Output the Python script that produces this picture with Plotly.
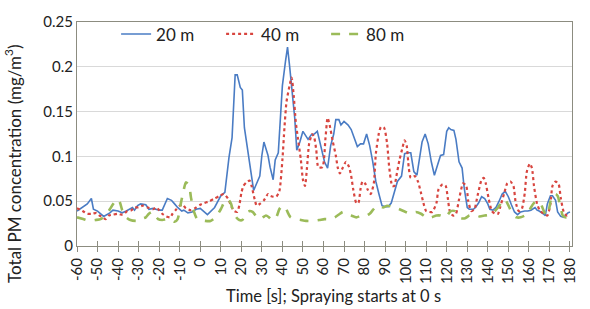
import plotly.graph_objects as go

# ---- data ----
t20 = [-60, -57, -55, -53, -52, -50, -47, -44, -42.5, -40, -38, -36, -34.5, -33, -32, -30.5, -29, -26.5, -25, -23,
       -20, -18.5, -16, -14, -12.5, -11, -9, -8, -6, -4, -2, 0, 3.5, 7, 10, 12, 14, 15.5, 17, 18,
       19.5, 20.5, 21.5, 23, 24.5, 26, 27.5, 29, 30, 31, 33, 34, 35.5, 36.5, 38, 39, 40, 41.5, 42.5, 43.5,
       44.5, 46, 47, 48.5, 50, 51, 52.5, 54, 55.5, 57, 58.5, 60.5, 62, 63.5, 65, 66, 67.5, 68.5, 70, 72,
       73.5, 75, 76.5, 78, 79.5, 81, 82.5, 84, 85.5, 87, 88.5, 90, 91.5, 93, 94.5, 96, 98, 99.5, 101, 102.5,
       104, 105.5, 106.5, 108, 109.5, 111, 112.5, 114, 115.5, 117, 118.5, 120, 121, 122, 123.5, 124.5, 126, 127.5, 128.5, 130,
       131, 133, 134, 135.5, 137, 138.5, 140, 141, 142.5, 144, 145.5, 147, 148.5, 150, 151.5, 153, 154.5, 156, 158, 159.5,
       161, 163, 164, 165, 167, 168, 169, 170.5, 171.5, 173, 174, 175.5, 177, 178, 179, 180]
v20 = [0.039, 0.044, 0.047, 0.053, 0.041, 0.039, 0.033, 0.037, 0.040, 0.039, 0.037, 0.039, 0.041, 0.043, 0.040, 0.045, 0.047, 0.046, 0.041, 0.042,
       0.040, 0.040, 0.053, 0.051, 0.047, 0.043, 0.039, 0.040, 0.037, 0.038, 0.041, 0.042, 0.035, 0.043, 0.056, 0.060, 0.099, 0.121, 0.191, 0.191,
       0.177, 0.174, 0.132, 0.107, 0.085, 0.062, 0.070, 0.078, 0.101, 0.116, 0.101, 0.088, 0.074, 0.096, 0.104, 0.146, 0.179, 0.206, 0.222, 0.201,
       0.179, 0.143, 0.107, 0.116, 0.128, 0.124, 0.119, 0.124, 0.125, 0.128, 0.112, 0.094, 0.087, 0.112, 0.125, 0.141, 0.141, 0.135, 0.139, 0.135,
       0.130, 0.121, 0.111, 0.114, 0.114, 0.125, 0.112, 0.094, 0.072, 0.058, 0.045, 0.044, 0.044, 0.048, 0.061, 0.072, 0.078, 0.103, 0.104, 0.104,
       0.083, 0.079, 0.094, 0.116, 0.125, 0.114, 0.094, 0.079, 0.090, 0.101, 0.102, 0.128, 0.132, 0.130, 0.129, 0.119, 0.094, 0.087, 0.065, 0.043,
       0.041, 0.041, 0.043, 0.048, 0.055, 0.053, 0.047, 0.041, 0.040, 0.043, 0.050, 0.058, 0.061, 0.055, 0.046, 0.038, 0.035, 0.038, 0.039, 0.039,
       0.040, 0.043, 0.040, 0.039, 0.036, 0.034, 0.047, 0.056, 0.056, 0.051, 0.038, 0.033, 0.032, 0.035, 0.037, 0.038]

t40 = [-60, -58, -56.5, -55, -52.5, -50.5, -49, -47.5, -46, -44.5, -42.5, -40, -38.5, -37, -35.5, -33.5, -32, -30, -28, -25.5,
       -23, -21.5, -20, -18.5, -16.5, -14.5, -13.5, -12, -10, -8.5, -7, -4.5, -2, 0, 2, 4.5, 7, 9.5, 11.5, 13.5,
       15, 16.5, 18, 19, 20, 21, 22.5, 24, 25, 26.5, 27.5, 29, 31, 33, 34, 35.5, 37, 38.5, 40, 41,
       42, 43.5, 44.5, 45.5, 46.5, 47.5, 49, 50, 51, 52, 53, 54.5, 55.5, 56.5, 57.5, 59.5, 61, 62, 63, 64.5,
       66, 67, 68, 69.5, 71, 72.5, 73.5, 74.5, 76, 77, 78, 79, 80.5, 81.5, 83, 84.5, 85.5, 87, 88, 89.5,
       91, 92, 93.5, 94.5, 95.5, 97, 98.5, 99.5, 100.5, 101.5, 102.5, 104.5, 106, 107.5, 109, 110, 111.5, 113, 115, 116,
       118, 119.5, 120.5, 121.5, 123, 124.5, 126, 128, 129.5, 130.5, 132, 133.5, 135, 137, 138, 139, 140.5, 142, 143.5, 145,
       146, 148, 149.5, 151, 152.5, 153.5, 155, 156.5, 158, 159, 160.5, 161.5, 162.5, 164, 165.5, 167.5, 169, 170.5, 171.5, 173,
       174.5, 175.5, 177, 178.5, 180]
v40 = [0.042, 0.040, 0.038, 0.036, 0.036, 0.037, 0.034, 0.032, 0.030, 0.034, 0.035, 0.036, 0.035, 0.036, 0.039, 0.040, 0.043, 0.043, 0.045, 0.043,
       0.041, 0.043, 0.040, 0.036, 0.033, 0.032, 0.036, 0.040, 0.045, 0.046, 0.042, 0.040, 0.043, 0.046, 0.048, 0.050, 0.053, 0.056, 0.058, 0.053,
       0.045, 0.039, 0.038, 0.045, 0.059, 0.067, 0.071, 0.073, 0.067, 0.052, 0.045, 0.047, 0.051, 0.058, 0.056, 0.055, 0.055, 0.061, 0.096, 0.132,
       0.161, 0.179, 0.188, 0.168, 0.139, 0.121, 0.096, 0.074, 0.067, 0.088, 0.114, 0.125, 0.121, 0.107, 0.088, 0.088, 0.121, 0.143, 0.135, 0.117,
       0.101, 0.087, 0.081, 0.088, 0.094, 0.088, 0.078, 0.063, 0.048, 0.048, 0.063, 0.072, 0.069, 0.063, 0.058, 0.070, 0.103, 0.126, 0.133, 0.132,
       0.114, 0.088, 0.067, 0.067, 0.078, 0.096, 0.110, 0.118, 0.112, 0.088, 0.076, 0.078, 0.072, 0.059, 0.045, 0.039, 0.038, 0.038, 0.048, 0.063,
       0.069, 0.067, 0.054, 0.039, 0.034, 0.036, 0.052, 0.070, 0.067, 0.050, 0.039, 0.041, 0.056, 0.074, 0.076, 0.070, 0.052, 0.039, 0.036, 0.036,
       0.043, 0.059, 0.070, 0.072, 0.067, 0.050, 0.039, 0.041, 0.059, 0.083, 0.092, 0.087, 0.067, 0.047, 0.039, 0.036, 0.034, 0.047, 0.067, 0.072,
       0.069, 0.054, 0.038, 0.034, 0.036]

t80 = [-60, -57, -54, -51, -48.5, -46, -44, -42, -40, -39, -38, -36, -34, -31, -29, -26.5, -25, -23.5, -22.5, -20.5,
       -18.5, -16, -14, -12.5, -11, -9.5, -8, -7, -5.5, -4.5, -3, -1.5, 0, 2.5, 5, 7.5, 10, 12, 13.5, 15,
       16, 17.5, 19, 20.5, 22, 24, 25.5, 27, 29, 30.5, 32, 33.5, 35, 37, 38.5, 40, 41.5, 42.5, 44, 46.5,
       49, 51.5, 55, 58, 60.5, 63, 65.5, 68, 69.5, 71, 73.5, 76, 78.5, 81, 82.5, 84, 85.5, 87, 89, 91,
       93, 95, 97, 100, 102.5, 105, 107.5, 110, 112.5, 115, 117, 119, 120.5, 122, 124, 125.5, 127, 129, 131, 133.5,
       136, 138.5, 141, 143, 145, 146.5, 148, 149, 150.5, 152, 154, 156, 158, 159.5, 161, 162.5, 164.5, 166, 167.5, 169,
       170, 171, 173, 174, 175.5, 176.5, 178, 180]
v80 = [0.032, 0.030, 0.028, 0.029, 0.030, 0.034, 0.041, 0.048, 0.052, 0.048, 0.040, 0.032, 0.029, 0.028, 0.030, 0.032, 0.036, 0.038, 0.036, 0.030,
       0.029, 0.030, 0.029, 0.027, 0.030, 0.047, 0.063, 0.071, 0.068, 0.054, 0.038, 0.030, 0.029, 0.028, 0.028, 0.032, 0.041, 0.050, 0.052, 0.047,
       0.039, 0.032, 0.029, 0.029, 0.036, 0.039, 0.038, 0.034, 0.030, 0.032, 0.034, 0.032, 0.029, 0.032, 0.041, 0.045, 0.043, 0.038, 0.032, 0.030,
       0.029, 0.028, 0.028, 0.029, 0.030, 0.030, 0.032, 0.036, 0.038, 0.036, 0.034, 0.032, 0.034, 0.034, 0.036, 0.040, 0.044, 0.045, 0.043, 0.045,
       0.044, 0.043, 0.041, 0.038, 0.036, 0.038, 0.036, 0.032, 0.032, 0.034, 0.034, 0.032, 0.035, 0.039, 0.039, 0.034, 0.031, 0.031, 0.034, 0.035,
       0.033, 0.034, 0.035, 0.038, 0.043, 0.048, 0.052, 0.050, 0.043, 0.036, 0.032, 0.032, 0.034, 0.036, 0.043, 0.048, 0.050, 0.046, 0.038, 0.034,
       0.043, 0.054, 0.058, 0.056, 0.043, 0.034, 0.032, 0.036]

x_ticks = list(range(-60, 181, 10))
series_names = ["20 m", "40 m", "80 m"]

FONT = "Lato"
AXIS_COLOR = "#8c8c80"

fig = go.Figure()
fig.add_trace(go.Scatter(x=t20, y=v20, mode="lines", name=series_names[0],
                         line=dict(color="#4a7cc4", width=1.6)))
fig.add_trace(go.Scatter(x=t40, y=v40, mode="lines", name=series_names[1],
                         line=dict(color="#d8453f", width=2.2, dash="dot", shape="spline", smoothing=0.6)))
fig.add_trace(go.Scatter(x=t80, y=v80, mode="lines", name=series_names[2],
                         line=dict(color="#9bbb59", width=2.6, dash="dash", shape="spline", smoothing=0.6)))
# invisible trace to carry the inner half of the crossing tick marks
fig.add_trace(go.Scatter(x=[-60, 180], y=[None, None], xaxis="x2", showlegend=False, hoverinfo="skip"))

fig.update_layout(
    width=590, height=309,
    margin=dict(l=77, r=18, t=16, b=63),
    paper_bgcolor="white", plot_bgcolor="white",
    font=dict(family=FONT, size=15, color="#222222"),
    showlegend=True,
    legend=dict(orientation="h", x=0.079, y=1.025, xanchor="left", yanchor="top",
                entrywidth=60, entrywidthmode="pixels", itemwidth=30,
                font=dict(family=FONT, size=17, color="#222222"), bgcolor="rgba(0,0,0,0)"),
    xaxis=dict(range=[-60, 181], tickmode="array", tickvals=x_ticks, ticktext=[str(v) for v in x_ticks],
               tickangle=-90, ticks="outside", ticklen=5, tickcolor=AXIS_COLOR, tickwidth=1,
               showline=True, linecolor=AXIS_COLOR, linewidth=1, mirror=True,
               showgrid=False, zeroline=False, tickfont=dict(family=FONT, size=15)),
    xaxis2=dict(range=[-60, 181], overlaying="x", anchor="y", side="bottom",
                tickmode="array", tickvals=x_ticks, ticks="inside", ticklen=5,
                tickcolor=AXIS_COLOR, tickwidth=1, showticklabels=False,
                showline=False, showgrid=False, zeroline=False),
    yaxis=dict(range=[0, 0.25], dtick=0.05, tick0=0, showgrid=True, gridcolor="#d9d9d9", gridwidth=1,
               showline=True, linecolor=AXIS_COLOR, linewidth=1, mirror=True, zeroline=False,
               ticks="", tickfont=dict(family=FONT, size=15)),
    annotations=[
        dict(text="Time [s]; Spraying starts at 0 s", xref="paper", yref="paper",
             x=0.519, y=-0.222, xanchor="center", yanchor="middle", showarrow=False,
             font=dict(family=FONT, size=16.5)),
        dict(text="Total PM concentration (mg/m<sup>3</sup>)", xref="paper", yref="paper",
             x=-0.13, y=0.365, xanchor="center", yanchor="middle", textangle=-90, showarrow=False,
             font=dict(family=FONT, size=17)),
    ],
)

fig.write_html("out.html")
